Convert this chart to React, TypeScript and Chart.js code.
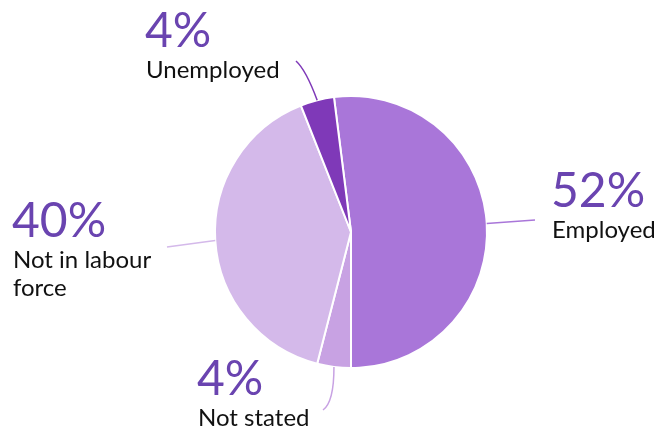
import React, { useEffect, useRef } from "react";
import { Chart, registerables } from "chart.js";

Chart.register(...registerables);

const categories = ["Employed", "Not stated", "Not in labour force", "Unemployed"];
const values = [52, 4, 40, 4];
const percentLabels = ["52%", "4%", "40%", "4%"];
const nameLabels = [["Employed"], ["Not stated"], ["Not in labour", "force"], ["Unemployed"]];
const sliceColors = ["#a976d9", "#c8a2e3", "#d4b9ea", "#7f39b8"];

// label layout: text anchor (relative to pie centre), leader line end & hook
const layout = [
  { tx: 200, ty: -25, ex: 184, ey: -12, hx: 0, hy: 0 },
  { tx: -154, ty: 163, ex: -17, ey: 170, hx: -11, hy: 8 },
  { tx: -339, ty: 5, ex: -184, ey: 15, hx: 0, hy: 0 },
  { tx: -206, ty: -185, ex: -45, ey: -162, hx: -10, hy: -9 },
];

const labelPlugin = {
  id: "pieLabels",
  afterDatasetsDraw(chart: any) {
    const ctx = chart.ctx;
    const meta = chart.getDatasetMeta(0);
    meta.data.forEach((arc: any, i: number) => {
      const p = arc.getProps(["x", "y", "startAngle", "endAngle", "outerRadius"], true);
      const mid = (p.startAngle + p.endAngle) / 2;
      const sx = p.x + Math.cos(mid) * p.outerRadius;
      const sy = p.y + Math.sin(mid) * p.outerRadius;
      const L = layout[i];
      const ex = p.x + L.ex;
      const ey = p.y + L.ey;
      ctx.save();
      ctx.strokeStyle = sliceColors[i];
      ctx.lineWidth = 1.5;
      ctx.beginPath();
      ctx.moveTo(sx, sy);
      if (L.hx !== 0 || L.hy !== 0) {
        ctx.quadraticCurveTo(ex, ey, ex + L.hx, ey + L.hy);
      } else {
        ctx.lineTo(ex, ey);
      }
      ctx.stroke();
      const tx = p.x + L.tx;
      const ty = p.y + L.ty;
      ctx.textAlign = "left";
      ctx.textBaseline = "alphabetic";
      ctx.fillStyle = "#6a44b0";
      ctx.font = "400 48px Lato";
      ctx.fillText(percentLabels[i], tx, ty);
      ctx.fillStyle = "#111111";
      ctx.font = "400 24px Lato";
      nameLabels[i].forEach((line, k) => {
        ctx.fillText(line, tx + 1, ty + 31 + k * 28);
      });
      ctx.restore();
    });
  },
};

export default function App() {
  const ref = useRef<HTMLCanvasElement>(null);
  useEffect(() => {
    if (!ref.current) return;
    const chart = new Chart(ref.current, {
      type: "pie",
      data: {
        labels: categories,
        datasets: [
          {
            data: values,
            backgroundColor: sliceColors,
            borderColor: "#ffffff",
            borderWidth: 2,
          },
        ],
      },
      options: {
        animation: false,
        responsive: true,
        maintainAspectRatio: false,
        rotation: -7.2,
        layout: { padding: { left: 214, right: 170, top: 95, bottom: 65 } },
        plugins: { legend: { display: false }, tooltip: { enabled: false } },
      },
      plugins: [labelPlugin],
    });
    return () => chart.destroy();
  }, []);
  return (
    <div style={{ position: "fixed", left: 0, top: 0, width: 658, height: 434, background: "#fff" }}>
      <canvas ref={ref} />
    </div>
  );
}
